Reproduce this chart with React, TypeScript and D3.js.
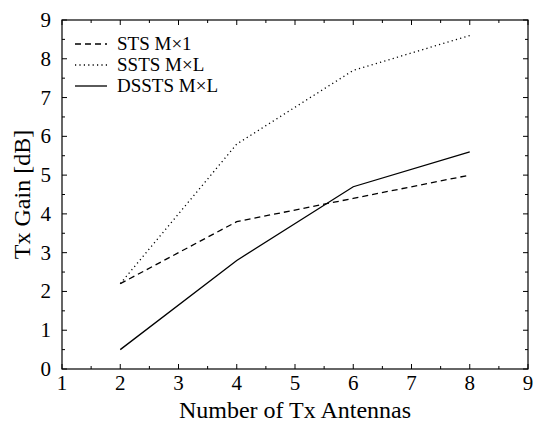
import React from "react";
import * as d3 from "d3";

const antennas = [2, 4, 6, 8];
const stsGain = [2.2, 3.8, 4.4, 5.0];
const sstsGain = [2.2, 5.8, 7.7, 8.6];
const dsstsGain = [0.5, 2.8, 4.7, 5.6];
const seriesNames = ["STS M\u00d71", "SSTS M\u00d7L", "DSSTS M\u00d7L"];
const xTicks = [1, 2, 3, 4, 5, 6, 7, 8, 9];
const yTicks = [0, 1, 2, 3, 4, 5, 6, 7, 8, 9];

const W = 534, H = 422;
const m = { left: 62, right: 6, top: 20, bottom: 53 };

export default function App() {
  const x = d3.scaleLinear().domain([1, 9]).range([m.left, W - m.right]);
  const y = d3.scaleLinear().domain([0, 9]).range([H - m.bottom, m.top]);
  const line = d3.line<[number, number]>().x(d => x(d[0])).y(d => y(d[1]));
  const series = [stsGain, sstsGain, dsstsGain];
  const dashes = ["6,4", "1.2,3.2", undefined];
  const x0 = m.left, x1 = W - m.right, y0 = H - m.bottom, y1 = m.top;
  const xMinor = d3.range(1, 9.01, 0.5);
  const yMinor = d3.range(0, 9.01, 0.5);
  const font = "'Liberation Serif', 'Times New Roman', serif";
  return (
    <svg width={W} height={H} style={{ position: "absolute", left: 0, top: 0, background: "#fff" }} fontFamily={font}>
      <rect x={0} y={0} width={W} height={H} fill="#fff" />
      {xMinor.map((t, i) => {
        const len = Number.isInteger(t) ? 5 : 3;
        return (
          <g key={"xt" + i} stroke="#000" strokeWidth={1}>
            <line x1={x(t)} x2={x(t)} y1={y0} y2={y0 - len} />
            <line x1={x(t)} x2={x(t)} y1={y1} y2={y1 + len} />
          </g>
        );
      })}
      {yMinor.map((t, i) => {
        const len = Number.isInteger(t) ? 5 : 3;
        return (
          <g key={"yt" + i} stroke="#000" strokeWidth={1}>
            <line x1={x0} x2={x0 + len} y1={y(t)} y2={y(t)} />
            <line x1={x1} x2={x1 - len} y1={y(t)} y2={y(t)} />
          </g>
        );
      })}
      <rect x={x0} y={y1} width={x1 - x0} height={y0 - y1} fill="none" stroke="#000" strokeWidth={1.2} />
      {xTicks.map(t => (
        <text key={"xl" + t} x={x(t)} y={y0 + 21} textAnchor="middle" fontSize={21}>{t}</text>
      ))}
      {yTicks.map(t => (
        <text key={"yl" + t} x={x0 - 11} y={y(t) + 7} textAnchor="end" fontSize={21}>{t}</text>
      ))}
      <text x={(x0 + x1) / 2} y={H - 4} textAnchor="middle" fontSize={24}>Number of Tx Antennas</text>
      <text transform={`translate(30,${(y0 + y1) / 2}) rotate(-90)`} textAnchor="middle" fontSize={24}>Tx Gain [dB]</text>
      {series.map((s, i) => (
        <path key={"s" + i} d={line(antennas.map((a, j) => [a, s[j]] as [number, number])) || ""}
          fill="none" stroke="#000" strokeWidth={1.3} strokeDasharray={dashes[i]} />
      ))}
      {seriesNames.map((n, i) => {
        const ly = 44 + i * 21;
        return (
          <g key={"lg" + i}>
            <line x1={75} x2={107} y1={ly} y2={ly} stroke="#000" strokeWidth={1.3} strokeDasharray={dashes[i]} />
            <text x={117} y={ly + 6} fontSize={19}>{n}</text>
          </g>
        );
      })}
    </svg>
  );
}
